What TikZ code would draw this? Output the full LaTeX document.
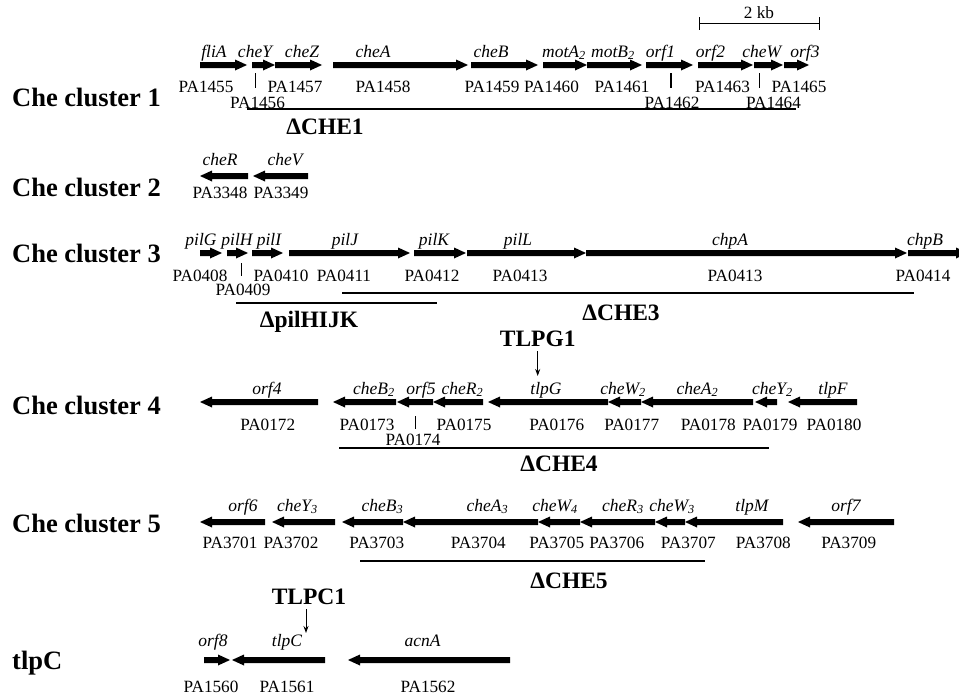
\documentclass[tikz,border=0pt]{standalone}
\usepackage{fontspec}
\setmainfont{Liberation Serif}
\usetikzlibrary{arrows.meta}
\newcommand\gR[3]{\fill (#1,#3-3) -- (#2-12,#3-3) -- (#2-12,#3-5.5) -- (#2,#3) -- (#2-12,#3+5.5) -- (#2-12,#3+3) -- (#1,#3+3) -- cycle;}
\newcommand\gL[3]{\fill (#2,#3-3) -- (#1+12,#3-3) -- (#1+12,#3-5.5) -- (#1,#3) -- (#1+12,#3+5.5) -- (#1+12,#3+3) -- (#2,#3+3) -- cycle;}
\tikzset{
  gname/.style={font=\fontsize{17.5}{19}\selectfont\itshape, anchor=base, inner sep=0pt},
  pa/.style={font=\fontsize{17.2}{19}\selectfont, anchor=base, inner sep=0pt},
  clab/.style={font=\fontsize{26.5}{29}\selectfont\bfseries, anchor=base west, inner sep=0pt},
  del/.style={font=\fontsize{23.5}{25}\selectfont\bfseries, anchor=base, inner sep=0pt},
  dline/.style={line width=2.2pt},
  tickln/.style={line width=1.2pt},
  ptr/.style={line width=1pt, -{Stealth[length=7pt,width=5pt]}, shorten <=5pt},
}
\begin{document}
\begin{tikzpicture}[x=1pt,y=-1pt]
\useasboundingbox (0,0) rectangle (959,696);
\clip (0,0) rectangle (959,696);
% scale bar
\node[pa] (kb) at (759,19) {2 kb};
\draw[line width=1pt] (699,17) -- (699,30) (699,23) -- (819,23) (819,17) -- (819,30);

% ---------- Che cluster 1
\node[clab] (c1) at (12,106) {Che cluster 1};
\foreach \a/\b in {200/247,252/275,275/322,333/468,471/538,543/587,587/642,646/693,698/753,754/783,784/809} {\gR{\a}{\b}{65}}
\foreach \x/\t [count=\i] in {214/fliA,255/cheY,302/cheZ,373/cheA,491/cheB,564/{motA\textsubscript{2}},613/{motB\textsubscript{2}},660.5/orf1,710.5/orf2,761.7/cheW,805/orf3}
  {\node[gname] (ga\i) at (\x,57) {\t};}
\foreach \x/\t [count=\i] in {206/PA1455,295/PA1457,383/PA1458,492/PA1459,551.5/PA1460,622/PA1461,722.5/PA1463,799/PA1465}
  {\node[pa] (pa\i) at (\x,92.5) {\t};}
\foreach \x/\t [count=\i] in {257.5/PA1456,672/PA1462,773.5/PA1464}
  {\node[pa] (pb\i) at (\x,108) {\t};}
\draw[tickln] (255.3,73) -- (255.3,88) (671,73) -- (671,88) (759.3,73) -- (759.3,88);
\draw[dline] (247,109) -- (796,109);
\node[del] (d1) at (325,134) {ΔCHE1};

% ---------- Che cluster 2
\node[clab] (c2) at (12,196) {Che cluster 2};
\gL{200}{248}{176}
\gL{253}{308}{176}
\node[gname] (gb1) at (220,165) {cheR};
\node[gname] (gb2) at (285,165) {cheV};
\node[pa] (pc1) at (220,198) {PA3348};
\node[pa] (pc2) at (281,198) {PA3349};

% ---------- Che cluster 3
\node[clab] (c3) at (12,262) {Che cluster 3};
\foreach \a/\b in {200/222,227/248,252/283,289/410,414/466,467/586,586/907,908/968} {\gR{\a}{\b}{253}}
\foreach \x/\t [count=\i] in {201/pilG,237/pilH,269/pilI,345/pilJ,434/pilK,518/pilL,730/chpA,925/chpB}
  {\node[gname] (gc\i) at (\x,245) {\t};}
\foreach \x/\t [count=\i] in {200/PA0408,281/PA0410,344/PA0411,432/PA0412,520/PA0413,735/PA0413,923/PA0414}
  {\node[pa] (pd\i) at (\x,281) {\t};}
\node[pa] (pe1) at (243,295) {PA0409};
\draw[tickln] (241.7,263) -- (241.7,276);
\draw[dline] (342,293.3) -- (914,293.3);
\node[del] (d3) at (621,320) {ΔCHE3};
\draw[dline] (236,302.7) -- (437,302.7);
\node[del] (dp) at (309,327) {ΔpilHIJK};

% ---------- Che cluster 4
\node[clab] (c4) at (12,414) {Che cluster 4};
\node[del] (tlpg1) at (537.7,346) {TLPG1};
\coordinate (tg1end) at (537.7,376);
\draw[ptr] (tlpg1.south) -- (tg1end);
\foreach \a/\b in {200/318,333/396,397/433,433/483,488/608,608/641,641/753,755/777,788/857} {\gL{\a}{\b}{402}}
\foreach \x/\t [count=\i] in {267/orf4,374/{cheB\textsubscript{2}},421/orf5,462.5/{cheR\textsubscript{2}},546/tlpG,623/{cheW\textsubscript{2}},697.5/{cheA\textsubscript{2}},772.5/{cheY\textsubscript{2}},833/tlpF}
  {\node[gname] (gd\i) at (\x,394) {\t};}
\foreach \x/\t [count=\i] in {267.7/PA0172,367/PA0173,464/PA0175,556.7/PA0176,631.7/PA0177,708.3/PA0178,770/PA0179,834/PA0180}
  {\node[pa] (pf\i) at (\x,430) {\t};}
\node[pa] (pg1) at (413,445) {PA0174};
\draw[tickln] (415.3,416) -- (415.3,429.3);
\draw[dline] (339,448.3) -- (769,448.3);
\node[del] (d4) at (559,471.5) {ΔCHE4};

% ---------- Che cluster 5
\node[clab] (c5) at (12,532) {Che cluster 5};
\foreach \a/\b in {200/265,272/335,342/403,403/538,538/580,580/655,655/685,685/783,798/894} {\gL{\a}{\b}{522}}
\foreach \x/\t [count=\i] in {243/orf6,297.5/{cheY\textsubscript{3}},382.5/{cheB\textsubscript{3}},487.5/{cheA\textsubscript{3}},555/{cheW\textsubscript{4}},623/{cheR\textsubscript{3}},672/{cheW\textsubscript{3}},752/tlpM,846/orf7}
  {\node[gname] (ge\i) at (\x,511) {\t};}
\foreach \x/\t [count=\i] in {230/PA3701,291/PA3702,376.7/PA3703,478.3/PA3704,556.7/PA3705,616.7/PA3706,688.3/PA3707,763.3/PA3708,848.7/PA3709}
  {\node[pa] (ph\i) at (\x,548) {\t};}
\draw[dline] (360,561) -- (705,561);
\node[del] (d5) at (569,588) {ΔCHE5};

% ---------- tlpC
\node[clab] (c6) at (12,669) {tlpC};
\node[del] (tlpc1) at (309,604) {TLPC1};
\coordinate (tc1end) at (306,633);
\draw[ptr] (tlpc1.south -| tc1end) -- (tc1end);
\gR{204}{230}{660}
\gL{232}{325}{660}
\gL{348}{510}{660}
\node[gname] (gf1) at (213,646) {orf8};
\node[gname] (gf2) at (287,646) {tlpC};
\node[gname] (gf3) at (422.5,646) {acnA};
\node[pa] (pi1) at (211,692) {PA1560};
\node[pa] (pi2) at (287,692) {PA1561};
\node[pa] (pi3) at (428,692) {PA1562};
\end{tikzpicture}
\end{document}
